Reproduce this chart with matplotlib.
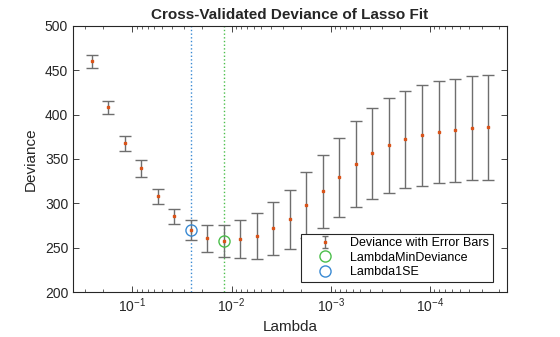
import matplotlib
matplotlib.use("Agg")
import matplotlib.pyplot as plt
from matplotlib.lines import Line2D
from matplotlib.path import Path
import numpy as np

plt.rcParams['font.family'] = ['Liberation Sans', 'DejaVu Sans']

# geometric lambda sequence (25 values, 4 decades)
lambda_max = 0.258
lambdas = lambda_max * 10 ** (-4 * np.arange(25) / 24)

deviance = [459.9, 408.1, 367.5, 339.3, 307.8, 285.3, 269.8, 260.5, 257.1, 259.7,
            262.7, 271.7, 281.9, 297.7, 313.4, 329.2, 343.9, 356.2, 365.3, 372.0,
            376.5, 379.9, 382.2, 384.4, 385.5]
se = [7.0, 7.0, 8.5, 10.0, 8.3, 8.5, 11.5, 15.0, 18.0, 21.0,
      26.0, 29.6, 33.0, 37.0, 41.0, 44.5, 48.5, 51.0, 53.5, 55.0,
      57.0, 57.5, 58.0, 58.6, 59.0]
idx_1se = 6
idx_min = 8

blue = '#3a8ad3'
green = '#4cbf4c'
bar_gray = '#6e6e6e'
dot_orange = '#d95319'

fig = plt.figure(figsize=(5.6, 3.37), dpi=100)
ax = fig.add_axes([0.1304, 0.1335, 0.775, 0.790])

ax.errorbar(lambdas, deviance, yerr=se, fmt='s', ms=1.8, color=dot_orange,
            ecolor=bar_gray, elinewidth=1.0, capsize=4, capthick=1.0, zorder=3)

pmin, = ax.plot(lambdas[idx_min], deviance[idx_min], 'o', ms=8, mfc='none',
                mec=green, mew=1.0, zorder=4)
p1se, = ax.plot(lambdas[idx_1se], deviance[idx_1se], 'o', ms=8, mfc='none',
                mec=blue, mew=1.0, zorder=4)
ax.axvline(lambdas[idx_min], color=green, ls=':', lw=1.0, zorder=2)
ax.axvline(lambdas[idx_1se], color=blue, ls=':', lw=1.0, zorder=2)

ax.set_xscale('log')
ax.set_xlim(0.398, 1.66e-5)
ax.set_ylim(200, 500)
ax.set_yticks(np.arange(200, 501, 50))

ax.tick_params(which='both', direction='in', top=True, right=True,
               labelsize=10, color='#262626', labelcolor='#262626')
ax.tick_params(which='major', length=4, width=0.6)
ax.tick_params(which='minor', length=2, width=0.5)
for s in ax.spines.values():
    s.set_linewidth(0.8)
    s.set_color('#262626')

ax.set_xlabel('Lambda', fontsize=11, color='#262626', labelpad=3)
ax.set_ylabel('Deviance', fontsize=11, color='#262626', labelpad=5)
ax.set_title('Cross-Validated Deviance of Lasso Fit', fontsize=11,
             fontweight='bold', color='#262626', pad=5)

# legend proxy for the error bar entry: I-beam with a small square on top
ibeam = Path([(-0.5, 1), (0.5, 1), (0, 1), (0, -1), (-0.5, -1), (0.5, -1)],
             [Path.MOVETO, Path.LINETO, Path.MOVETO, Path.LINETO,
              Path.MOVETO, Path.LINETO])
bar_handle = Line2D([], [], ls='none', marker=ibeam, ms=9, mec=bar_gray,
                    mfc='none', mew=1.0)
dot_handle = Line2D([], [], ls='none', marker='s', ms=1.8, color=dot_orange)

leg = ax.legend([(bar_handle, dot_handle), pmin, p1se],
                ['Deviance with Error Bars', 'LambdaMinDeviance', 'Lambda1SE'],
                loc='lower right', bbox_to_anchor=(0.968, 0.0375),
                fontsize=9, frameon=True, fancybox=False,
                edgecolor='#262626', framealpha=1, borderpad=0.3,
                labelspacing=0.2, handletextpad=0.35, borderaxespad=0,
                handlelength=3.3)
leg.get_frame().set_linewidth(0.8)
leg.set_zorder(6)

fig.savefig('out.png', dpi=100)
